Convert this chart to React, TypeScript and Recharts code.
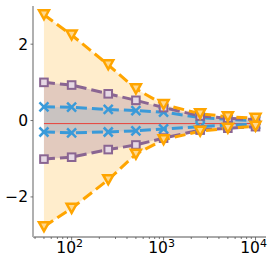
import React from 'react';
import { ComposedChart, Area, Line, XAxis, YAxis, ReferenceLine } from 'recharts';

const X_VALUES = [50, 100, 250, 500, 1000, 2500, 5000, 10000];
const ORANGE_UPPER = [2.77, 2.24, 1.46, 0.83, 0.42, 0.18, 0.1, 0.06];
const ORANGE_LOWER = [-2.78, -2.3, -1.55, -0.88, -0.5, -0.28, -0.2, -0.15];
const PURPLE_UPPER = [1.0, 0.93, 0.7, 0.53, 0.34, 0.12, 0.06, 0.02];
const PURPLE_LOWER = [-1.01, -0.96, -0.76, -0.64, -0.46, -0.25, -0.2, -0.16];
const BLUE_UPPER = [0.36, 0.35, 0.29, 0.26, 0.22, 0.08, 0.03, 0.0];
const BLUE_LOWER = [-0.3, -0.32, -0.3, -0.27, -0.22, -0.16, -0.12, -0.1];
const RED_LEVEL = -0.08;

const X_MAJOR = [100, 1000, 10000];
const X_MAJOR_EXP = ['2', '3', '4'];
const X_MINOR = [40, 50, 60, 70, 80, 90, 200, 300, 400, 500, 600, 700, 800, 900, 2000, 3000, 4000, 5000, 6000, 7000, 8000, 9000];
const Y_TICKS = [-2, 0, 2];
const Y_LABELS = ['\u22122', '0', '2'];

const ORANGE = '#FFA500';
const PURPLE = '#8a6592';
const BLUE = '#3a9ad9';
const RED = '#e8413a';
const FONT = 'DejaVu Sans, sans-serif';

const data = X_VALUES.map((x, i) => ({
  x,
  oRange: [ORANGE_LOWER[i], ORANGE_UPPER[i]],
  pRange: [PURPLE_LOWER[i], PURPLE_UPPER[i]],
  bRange: [BLUE_LOWER[i], BLUE_UPPER[i]],
  oU: ORANGE_UPPER[i],
  oL: ORANGE_LOWER[i],
  pU: PURPLE_UPPER[i],
  pL: PURPLE_LOWER[i],
  bU: BLUE_UPPER[i],
  bL: BLUE_LOWER[i],
}));

const XTick = (props: any) => {
  const { x, y, payload } = props;
  const idx = X_MAJOR.indexOf(payload.value);
  if (idx < 0) {
    return <line x1={x} x2={x} y1={y} y2={y + 2} stroke="#555" strokeWidth={0.8} />;
  }
  return (
    <g>
      <line x1={x} x2={x} y1={y} y2={y + 3.5} stroke="#555" strokeWidth={0.8} />
      <text x={x - 2} y={y + 16} textAnchor="middle" fontFamily={FONT} fontSize={15.5} fill="#000">
        <tspan>10</tspan>
        <tspan dy={-6.5} fontSize={11}>{X_MAJOR_EXP[idx]}</tspan>
      </text>
    </g>
  );
};

const YTick = (props: any) => {
  const { x, y, payload } = props;
  const idx = Y_TICKS.indexOf(payload.value);
  return (
    <g>
      <line x1={x - 2.5} x2={x} y1={y} y2={y} stroke="#555" strokeWidth={0.8} />
      <text x={x - 5} y={y + 5.5} textAnchor="end" fontFamily={FONT} fontSize={15.5} fill="#000">
        {Y_LABELS[idx]}
      </text>
    </g>
  );
};

const TriDot = (props: any) => {
  const { cx, cy, index } = props;
  if (cx == null || cy == null) return <g key={index} />;
  const w = 5, h = 4.5;
  return (
    <polygon
      key={index}
      points={`${cx - w},${cy - h} ${cx + w},${cy - h} ${cx},${cy + h}`}
      fill="#ffd98f"
      stroke={ORANGE}
      strokeWidth={2.5}
      strokeLinejoin="miter"
    />
  );
};

const SquareDot = (props: any) => {
  const { cx, cy, index } = props;
  if (cx == null || cy == null) return <g key={index} />;
  const s = 3.8;
  return (
    <rect key={index} x={cx - s} y={cy - s} width={2 * s} height={2 * s} fill="#e6d8e4" stroke={PURPLE} strokeWidth={2} />
  );
};

const XDot = (props: any) => {
  const { cx, cy, index } = props;
  if (cx == null || cy == null) return <g key={index} />;
  const s = 4.5;
  return (
    <g key={index}>
      <line x1={cx - s} y1={cy - s} x2={cx + s} y2={cy + s} stroke={BLUE} strokeWidth={2.5} />
      <line x1={cx - s} y1={cy + s} x2={cx + s} y2={cy - s} stroke={BLUE} strokeWidth={2.5} />
    </g>
  );
};

const lineProps = {
  type: 'linear' as const,
  strokeWidth: 3,
  strokeDasharray: '11 5',
  isAnimationActive: false,
  activeDot: false,
  legendType: 'none' as const,
};

export default function App() {
  return (
    <div style={{ position: 'absolute', left: 0, top: 0, width: 274, height: 262, background: '#fff' }}>
      <ComposedChart width={274} height={262} data={data} margin={{ top: 6, right: 8, bottom: 1, left: 0 }}>
        <XAxis
          dataKey="x"
          type="number"
          scale="log"
          domain={[38, 13000]}
          allowDataOverflow
          ticks={[...X_MINOR, ...X_MAJOR]}
          interval={0}
          tick={<XTick />}
          tickLine={false}
          tickSize={0}
          tickMargin={0}
          axisLine={{ stroke: '#555', strokeWidth: 1 }}
          height={24}
        />
        <YAxis
          type="number"
          domain={[-3.05, 3.0]}
          allowDataOverflow
          ticks={Y_TICKS}
          interval={0}
          tick={<YTick />}
          tickLine={false}
          tickSize={0}
          tickMargin={0}
          axisLine={{ stroke: '#b0b0b0', strokeWidth: 2 }}
          width={33}
        />
        <Area dataKey="oRange" type="linear" stroke="none" fill={ORANGE} fillOpacity={0.2} isAnimationActive={false} activeDot={false} dot={false} />
        <Area dataKey="pRange" type="linear" stroke="none" fill={PURPLE} fillOpacity={0.25} isAnimationActive={false} activeDot={false} dot={false} />
        <Area dataKey="bRange" type="linear" stroke="none" fill={BLUE} fillOpacity={0.15} isAnimationActive={false} activeDot={false} dot={false} />
        <ReferenceLine segment={[{ x: X_VALUES[0], y: RED_LEVEL }, { x: X_VALUES[X_VALUES.length - 1], y: RED_LEVEL }]} stroke={RED} strokeWidth={1} />
        <Line dataKey="bU" stroke={BLUE} dot={<XDot />} {...lineProps} />
        <Line dataKey="bL" stroke={BLUE} dot={<XDot />} {...lineProps} />
        <Line dataKey="pU" stroke={PURPLE} dot={<SquareDot />} {...lineProps} />
        <Line dataKey="pL" stroke={PURPLE} dot={<SquareDot />} {...lineProps} />
        <Line dataKey="oU" stroke={ORANGE} dot={<TriDot />} {...lineProps} />
        <Line dataKey="oL" stroke={ORANGE} dot={<TriDot />} {...lineProps} />
      </ComposedChart>
    </div>
  );
}
